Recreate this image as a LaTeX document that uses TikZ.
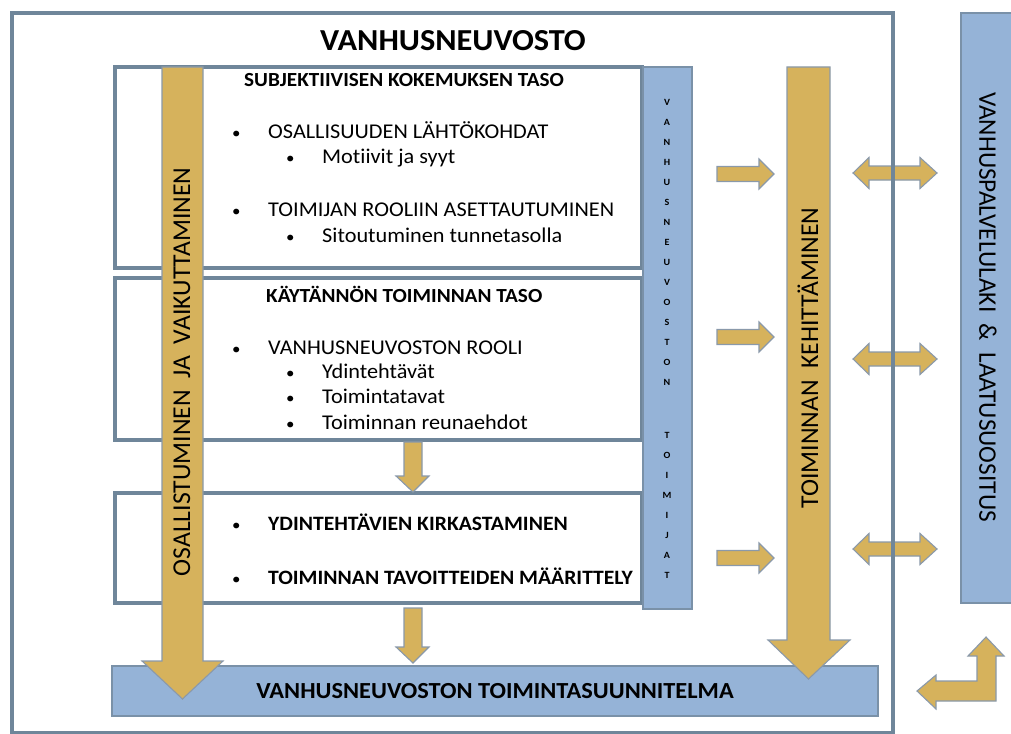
\documentclass[tikz,border=0pt]{standalone}
\usepackage{fontspec}
\setmainfont{Carlito}[Ligatures=NoCommon, FakeStretch=1.06]
\newfontfamily\plainfont{Carlito}[Ligatures=NoCommon]
\definecolor{framec}{RGB}{111,134,154}
\definecolor{goldc}{RGB}{214,178,92}
\definecolor{goldline}{RGB}{138,153,170}
\definecolor{bluec}{RGB}{149,179,215}
\definecolor{blueline}{RGB}{122,145,168}
\begin{document}
\begin{tikzpicture}[x=1pt,y=-1pt,
  gold/.style={fill=goldc, draw=goldline, line width=1.1pt, line join=miter},
  framebox/.style={draw=framec, line width=4pt, fill=white, outer sep=0pt, inner sep=0pt},
  bluebar/.style={fill=bluec, draw=blueline, line width=1.3pt, outer sep=0pt, inner sep=0pt},
  txt/.style={anchor=base west, inner sep=0pt, font=\fontsize{21}{24}\selectfont},
  hdr/.style={anchor=base west, inner sep=0pt, font=\fontsize{20}{24}\selectfont\bfseries},
  bul/.style={anchor=base west, inner sep=0pt, font=\fontsize{16}{20}\selectfont},
  biglabel/.style={inner sep=0pt, font=\plainfont\fontsize{25.7}{28}\selectfont},
  vletter/.style={inner sep=0pt, font=\fontsize{9.5}{10}\selectfont\bfseries}
]
\useasboundingbox (0,0) rectangle (1011,733);
\fill[white] (0,0) rectangle (1011,733);

% double arrows (under the frame line)
\foreach \yy in {173,359,549}{
  \draw[gold] (853,\yy) -- (869,\yy-15.5) -- (869,\yy-7) -- (920,\yy-7) -- (920,\yy-15.5)
    -- (937,\yy) -- (920,\yy+15.5) -- (920,\yy+7) -- (869,\yy+7) -- (869,\yy+15.5) -- cycle;
}

% outer frame
\node[framebox, fill=none, minimum width=881pt, minimum height=720pt] (outer) at (452.5,373) {};
\node[inner sep=0pt, font=\fontsize{30.5}{34}\selectfont\bfseries] (title) at (453,41) {VANHUSNEUVOSTO};

% level boxes
\node[framebox, minimum width=527pt, minimum height=201pt] (b1) at (378.5,167.5) {};
\node[framebox, minimum width=527pt, minimum height=162pt] (b2) at (378.5,359) {};
\node[framebox, minimum width=527pt, minimum height=110pt] (b3) at (378.5,548) {};

% vertical blue bar
\node[bluebar, minimum width=49pt, minimum height=542pt] (toimijat) at (667.5,338) {};
\foreach \ch [count=\i from 0] in {V,A,N,H,U,S,N,E,U,V,O,S,T,O,N}{
  \node[vletter] at (667,{102+20*\i}) {\ch};
}
\foreach \ch [count=\i from 0] in {T,O,I,M,I,J,A,T}{
  \node[vletter] at (667,{435+20*\i}) {\ch};
}

% bottom bar
\node[bluebar, minimum width=766pt, minimum height=50pt, font=\fontsize{23}{26}\selectfont\bfseries] (plan) at (495,691) {VANHUSNEUVOSTON TOIMINTASUUNNITELMA};

% right bar
\node[bluebar, minimum width=59pt, minimum height=590pt] (laki) at (990.5,308) {};
\node[biglabel, font=\plainfont\fontsize{25.3}{28}\selectfont, rotate=-90] (lakitxt) at (988,307) {VANHUSPALVELULAKI\ \ \&\ \ LAATUSUOSITUS};

% big arrows
\draw[gold] (162,67) -- (203,67) -- (203,661) -- (223,661) -- (182.5,699) -- (142,661) -- (162,661) -- cycle;
\node[biglabel, rotate=90] (osall) at (182,372) {OSALLISTUMINEN\ \ JA\ \ VAIKUTTAMINEN};
\draw[gold] (787,67) -- (830,67) -- (830,640) -- (850,640) -- (808.5,679) -- (768,640) -- (787,640) -- cycle;
\node[biglabel, rotate=90] (kehit) at (808,358) {TOIMINNAN\ \ KEHITTÄMINEN};

% small down arrows
\draw[gold] (404,442) -- (422,442) -- (422,476) -- (429,476) -- (413,492) -- (396,476) -- (404,476) -- cycle;
\draw[gold] (404,608) -- (422,608) -- (422,647) -- (429,647) -- (413,663) -- (396,647) -- (404,647) -- cycle;

% right arrows
\foreach \yy in {174,337,558}{
  \draw[gold] (717,\yy-7.5) -- (759,\yy-7.5) -- (759,\yy-15) -- (774,\yy) -- (759,\yy+15)
    -- (759,\yy+7.5) -- (717,\yy+7.5) -- cycle;
}

% bent arrow
\draw[gold] (917,691) -- (936,675) -- (936,681) -- (977,681) -- (977,656) -- (968,656) -- (986,637)
  -- (1004,656) -- (996,656) -- (996,701) -- (936,701) -- (936,709) -- cycle;

% box 1 text
\node[hdr] (h1) at (244,87) {SUBJEKTIIVISEN KOKEMUKSEN TASO};
\node[bul] at (232,139) {\textbullet};
\node[txt] (t11) at (268,139) {OSALLISUUDEN LÄHTÖKOHDAT};
\node[bul] at (286,163) {\textbullet};
\node[txt] (t12) at (322,163) {Motiivit ja syyt};
\node[bul] at (232,216) {\textbullet};
\node[txt] (t13) at (268,216) {TOIMIJAN ROOLIIN ASETTAUTUMINEN};
\node[bul] at (286,242) {\textbullet};
\node[txt] (t14) at (322,242) {Sitoutuminen tunnetasolla};

% box 2 text
\node[hdr] (h2) at (266,302) {KÄYTÄNNÖN TOIMINNAN TASO};
\node[bul] at (232,354) {\textbullet};
\node[txt] (t21) at (268,354) {VANHUSNEUVOSTON ROOLI};
\node[bul] at (286,378) {\textbullet};
\node[txt] (t22) at (322,378) {Ydintehtävät};
\node[bul] at (286,403) {\textbullet};
\node[txt] (t23) at (322,403) {Toimintatavat};
\node[bul] at (286,429) {\textbullet};
\node[txt] (t24) at (322,429) {Toiminnan reunaehdot};

% box 3 text
\node[bul] at (232,530) {\textbullet};
\node[hdr, font=\fontsize{20.4}{24}\selectfont\bfseries] (t31) at (268,530) {YDINTEHTÄVIEN KIRKASTAMINEN};
\node[bul] at (232,584) {\textbullet};
\node[hdr, font=\fontsize{20.4}{24}\selectfont\bfseries] (t32) at (268,584) {TOIMINNAN TAVOITTEIDEN MÄÄRITTELY};
\end{tikzpicture}
\end{document}
